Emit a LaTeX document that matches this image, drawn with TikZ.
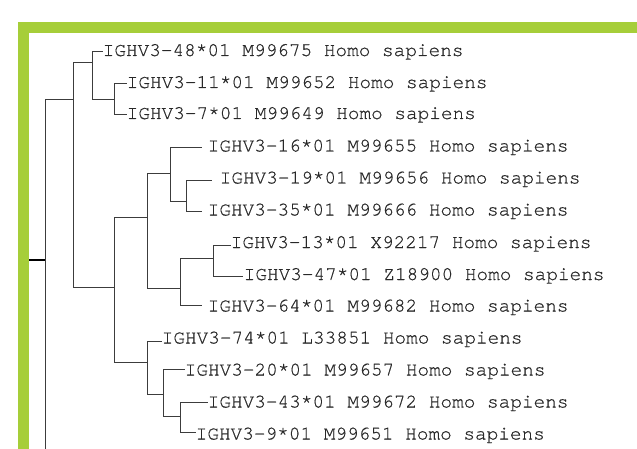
\documentclass[tikz,border=0pt]{standalone}
\usepackage{fontspec}
\setmonofont{texgyrecursor}[Extension=.otf,UprightFont=*-regular,BoldFont=*-bold,FakeBold=0.6]
\definecolor{framegreen}{RGB}{166,206,57}
\definecolor{treeline}{RGB}{60,60,60}
\definecolor{labeltext}{RGB}{40,40,40}
\begin{document}
\begin{tikzpicture}[x=1pt,y=-1pt,
  branch/.style={draw=treeline,line width=0.9pt},
  leaf/.style={anchor=base west,inner sep=0pt,text=labeltext,
    font=\ttfamily\fontsize{19.4}{20}\selectfont}]
\useasboundingbox (0,0) rectangle (637,449);
% frame
\fill[framegreen] (18,22) rectangle (637,449);
\fill[white] (29,33) rectangle (637,449);
% internal nodes
\coordinate (R) at (45,260);
\coordinate (rootstart) at (29,260);
\coordinate (rootend) at (45,449);
\coordinate (N1) at (73,99);
\coordinate (A) at (92,62);
\coordinate (A2) at (114,99);
\coordinate (B) at (114,287);
\coordinate (C) at (147,217);
\coordinate (C1) at (170,173);
\coordinate (C11) at (186,201);
\coordinate (C2) at (180,288);
\coordinate (C21) at (213,258);
\coordinate (D) at (147.5,362);
\coordinate (D1) at (163.5,394.5);
\coordinate (D2) at (180,416.5);
% tips
\coordinate (t48) at (103,51.5);
\coordinate (t11) at (127,83.5);
\coordinate (t7) at (127,114.5);
\coordinate (t16) at (202,147);
\coordinate (t19) at (212,180.5);
\coordinate (t35) at (202,211);
\coordinate (t13) at (231,245);
\coordinate (t47) at (243,276);
\coordinate (t64) at (202,305);
\coordinate (t74) at (162,341.5);
\coordinate (t20) at (185,369.5);
\coordinate (t43) at (208,402.5);
\coordinate (t9) at (196,432.5);
% labels
\node[leaf] (l48) at (102.5,56) {IGHV3-48*01 M99675 Homo sapiens};
\node[leaf] (l11) at (126.5,88) {IGHV3-11*01 M99652 Homo sapiens};
\node[leaf] (l7) at (126.5,119) {IGHV3-7*01 M99649 Homo sapiens};
\node[leaf] (l16) at (207.5,151.5) {IGHV3-16*01 M99655 Homo sapiens};
\node[leaf] (l19) at (219.5,183.5) {IGHV3-19*01 M99656 Homo sapiens};
\node[leaf] (l35) at (207.5,215.5) {IGHV3-35*01 M99666 Homo sapiens};
\node[leaf] (l13) at (230.5,248) {IGHV3-13*01 X92217 Homo sapiens};
\node[leaf] (l47) at (243.5,280) {IGHV3-47*01 Z18900 Homo sapiens};
\node[leaf] (l64) at (207.5,311.5) {IGHV3-64*01 M99682 Homo sapiens};
\node[leaf] (l74) at (161.5,343.5) {IGHV3-74*01 L33851 Homo sapiens};
\node[leaf] (l20) at (184.5,375.5) {IGHV3-20*01 M99657 Homo sapiens};
\node[leaf] (l43) at (207.5,407.5) {IGHV3-43*01 M99672 Homo sapiens};
\node[leaf] (l9) at (195.5,439.5) {IGHV3-9*01 M99651 Homo sapiens};
% branches
\draw[branch,draw=black,line width=1.2pt] (rootstart) -- (R);
\draw[branch] (R) -- (rootend);
\draw[branch] (R) |- (N1);
\draw[branch] (N1) |- (A);
\draw[branch] (N1) |- (B);
\draw[branch] (A) |- (t48);
\draw[branch] (A) |- (A2);
\draw[branch] (A2) |- (t11);
\draw[branch] (A2) |- (t7);
\draw[branch] (B) |- (C);
\draw[branch] (B) |- (D);
\draw[branch] (C) |- (C1);
\draw[branch] (C) |- (C2);
\draw[branch] (C1) |- (t16);
\draw[branch] (C1) |- (C11);
\draw[branch] (C11) |- (t19);
\draw[branch] (C11) |- (t35);
\draw[branch] (C2) |- (C21);
\draw[branch] (C2) |- (t64);
\draw[branch] (C21) |- (t13);
\draw[branch] (C21) |- (t47);
\draw[branch] (D) |- (t74);
\draw[branch] (D) |- (D1);
\draw[branch] (D1) |- (t20);
\draw[branch] (D1) |- (D2);
\draw[branch] (D2) |- (t43);
\draw[branch] (D2) |- (t9);
\end{tikzpicture}
\end{document}
